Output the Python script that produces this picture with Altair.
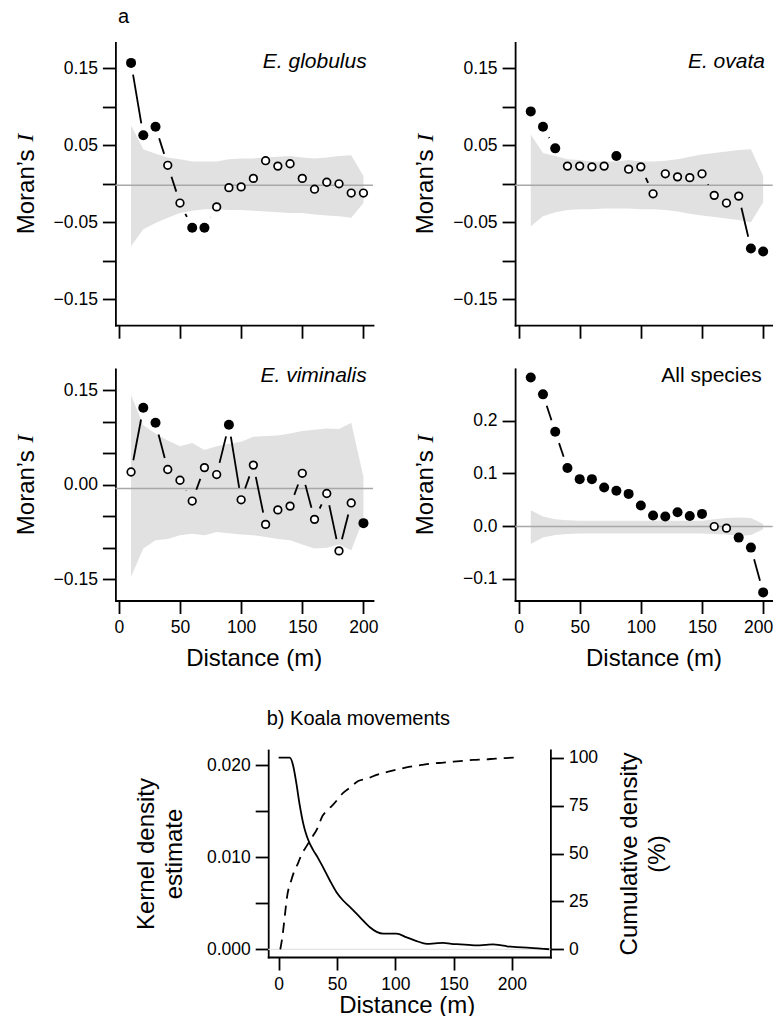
import math
import altair as alt
import pandas as pd

# ---------------- data ----------------
dist = [10, 20, 30, 40, 50, 60, 70, 80, 90, 100,
        110, 120, 130, 140, 150, 160, 170, 180, 190, 200]

glob_I = [0.157, 0.063, 0.074, 0.024, -0.025, -0.057, -0.057, -0.030, -0.005, -0.004,
          0.007, 0.030, 0.023, 0.026, 0.007, -0.007, 0.002, 0.000, -0.012, -0.012]
glob_sig = [1, 1, 1, 0, 0, 1, 1, 0, 0, 0, 0, 0, 0, 0, 0, 0, 0, 0, 0, 0]
glob_hi = [0.076, 0.045, 0.039, 0.034, 0.032, 0.029, 0.029, 0.029, 0.032, 0.033,
           0.033, 0.034, 0.035, 0.036, 0.034, 0.033, 0.034, 0.036, 0.037, 0.010]
glob_lo = [-0.081, -0.059, -0.051, -0.044, -0.038, -0.035, -0.033, -0.033, -0.034, -0.034,
           -0.035, -0.036, -0.037, -0.038, -0.038, -0.040, -0.041, -0.042, -0.044, -0.025]

ovata_I = [0.094, 0.074, 0.046, 0.023, 0.023, 0.022, 0.023, 0.036, 0.019, 0.022,
           -0.013, 0.013, 0.009, 0.008, 0.013, -0.015, -0.025, -0.016, -0.084, -0.088]
ovata_sig = [1, 1, 1, 0, 0, 0, 0, 1, 0, 0, 0, 0, 0, 0, 0, 0, 0, 0, 1, 1]
ovata_hi = [0.064, 0.040, 0.036, 0.032, 0.031, 0.029, 0.029, 0.029, 0.031, 0.029,
            0.029, 0.030, 0.032, 0.035, 0.038, 0.040, 0.042, 0.044, 0.045, 0.010]
ovata_lo = [-0.055, -0.042, -0.037, -0.034, -0.033, -0.033, -0.032, -0.032, -0.032, -0.033,
            -0.033, -0.034, -0.036, -0.039, -0.041, -0.043, -0.045, -0.047, -0.050, -0.024]

vim_I = [0.020, 0.122, 0.098, 0.024, 0.007, -0.026, 0.027, 0.016, 0.095, -0.024,
         0.031, -0.063, -0.040, -0.034, 0.018, -0.055, -0.014, -0.105, -0.029, -0.061]
vim_sig = [0, 1, 1, 0, 0, 0, 0, 0, 1, 0, 0, 0, 0, 0, 0, 0, 0, 0, 0, 1]
vim_hi = [0.142, 0.094, 0.081, 0.070, 0.061, 0.066, 0.055, 0.061, 0.065, 0.068,
          0.076, 0.077, 0.078, 0.081, 0.085, 0.087, 0.089, 0.088, 0.098, 0.012]
vim_lo = [-0.146, -0.101, -0.088, -0.086, -0.080, -0.078, -0.080, -0.075, -0.077, -0.079,
          -0.080, -0.083, -0.086, -0.088, -0.095, -0.101, -0.100, -0.095, -0.104, -0.055]

all_I = [0.282, 0.250, 0.179, 0.110, 0.089, 0.089, 0.073, 0.067, 0.061, 0.039,
         0.020, 0.018, 0.026, 0.019, 0.023, -0.001, -0.004, -0.022, -0.041, -0.126]
all_sig = [1, 1, 1, 1, 1, 1, 1, 1, 1, 1, 1, 1, 1, 1, 1, 0, 0, 1, 1, 1]
all_hi = [0.030, 0.018, 0.013, 0.011, 0.010, 0.010, 0.010, 0.010, 0.010, 0.010,
          0.010, 0.010, 0.010, 0.010, 0.010, 0.013, 0.015, 0.016, 0.015, 0.004]
all_lo = [-0.034, -0.022, -0.017, -0.015, -0.014, -0.014, -0.014, -0.014, -0.014, -0.014,
          -0.014, -0.014, -0.014, -0.014, -0.014, -0.015, -0.016, -0.019, -0.017, -0.006]

# expected value of Moran's I under the null (grey horizontal line)
null_glob, null_ovata, null_vim, null_all = -0.002, -0.002, -0.006, -0.001

kde_x = [0, 9.5, 12.3, 15.2, 18, 21, 23.8, 26.6, 29.5, 33.8, 38.1, 43.8, 49.6, 55.3, 61,
         69.6, 78.2, 84, 89.7, 95, 101, 109.7, 118.3, 127, 134, 141, 148, 155.6, 163,
         170, 177, 184, 190, 195.7, 204, 213, 222, 232]
kde_y = [0.0208, 0.0208, 0.0200, 0.0180, 0.0157, 0.0137, 0.0124, 0.0115, 0.0108, 0.0099,
         0.0089, 0.0075, 0.0062, 0.0053, 0.0046, 0.0035, 0.0024, 0.0019, 0.0017, 0.0017,
         0.0017, 0.0013, 0.0009, 0.0006, 0.00065, 0.0007, 0.0006, 0.00054, 0.00048,
         0.00043, 0.00048, 0.00054, 0.00045, 0.00033, 0.00025, 0.00018, 0.0001, 0.00001]

cum_x = [1.4, 3.2, 5.2, 7.2, 10.9, 13.8, 16.6, 19.5, 23.8, 28.1, 33.8, 36.7, 42.4, 46.7,
         55.3, 61, 68.2, 75.4, 85.4, 94, 104, 112.6, 122.6, 131.2, 141.3, 149.9, 158.5,
         167, 177, 185.7, 194.3, 202.9]
cum_y = [0, 6.5, 17, 27.4, 36.2, 41.4, 44.9, 49.3, 53.7, 58, 63.8, 68.5, 72.9, 75.5,
         81.6, 84.3, 87.8, 89, 91.3, 92.7, 94.2, 95.3, 96.2, 96.9, 97.4, 97.9, 98.4,
         98.8, 99.1, 99.5, 99.8, 100]

dist_ticks = [0, 50, 100, 150, 200]
moran_ticks = [-0.15, -0.10, -0.05, 0.0, 0.05, 0.10, 0.15]
all_ticks = [-0.1, 0.0, 0.1, 0.2]
kde_ticks = [0.0, 0.005, 0.010, 0.015, 0.020]
cum_ticks = [0, 25, 50, 75, 100]

# axis domains (R style, 4 % expansion)
dist_domain = [-2.8, 207.8]
moran_domain = [-0.1836, 0.1836]
all_domain = [-0.1414, 0.2985]
bx_domain = [-8.96, 232.96]
kde_domain = [-0.000832, 0.021632]
cum_domain = [-4, 104]

# ---------------- layout (pixels inside one view) ----------------
FONT = "Liberation Sans"
SERIF = "Liberation Serif"
VIEW_W, VIEW_H = 658, 915
LEFT_X = [0.4, 258.0]
RIGHT_X = [400.1, 657.7]
TOP_Y = [283.2, 0.4]
BOT_Y = [558.5, 326.8]
B_X = [153.2, 435.4]
B_Y = [915, 708]
GAP = 12          # gap (px) left around each point by the connecting lines
TITLE_FS = 24
MORAN_W = 3.834 * TITLE_FS   # width of "Moran’s " in Arial metrics
I_W = 0.333 * TITLE_FS
TITLE_OFF = -82.4            # baseline of y titles relative to axis line


def segments(I, xr, yr, ydom):
    sx = (xr[1] - xr[0]) / (dist_domain[1] - dist_domain[0])
    sy = (yr[0] - yr[1]) / (ydom[1] - ydom[0])
    rows = []
    for i in range(len(dist) - 1):
        x1, y1, x2, y2 = dist[i], I[i], dist[i + 1], I[i + 1]
        L = math.hypot((x2 - x1) * sx, (y2 - y1) * sy)
        if L > 2 * GAP:
            t = GAP / L
            rows.append(dict(xa=x1 + t * (x2 - x1), ya=y1 + t * (y2 - y1),
                             xb=x2 - t * (x2 - x1), yb=y2 - t * (y2 - y1)))
    if not rows:
        rows.append(dict(xa=None, ya=None, xb=None, yb=None))
    return pd.DataFrame(rows)


def label_expr(keep, mult):
    keep_s = ",".join(str(k) for k in keep)
    return f"indexof([{keep_s}], round(datum.value*{mult})) >= 0 ? datum.label : ''"


def moran_panel(I, sig, lo, hi, null, xr, yr, ydom, yticks, yfmt, lab_expr,
                bottom, title_x, edge=False):
    xs = alt.Scale(domain=dist_domain, range=xr, nice=False, zero=False)
    ys = alt.Scale(domain=ydom, range=yr, nice=False, zero=False)
    if bottom:
        extra = {}
        if edge:
            # keep the last label inside the page
            extra["labelOffset"] = {"condition": {"test": "datum.value == 200",
                                                  "value": -5}, "value": 0}
        xaxis = alt.Axis(orient="bottom", offset=yr[0] - VIEW_H, values=dist_ticks,
                         format="d", title="Distance (m)", titleX=title_x, titleY=64.5,
                         titleAlign="center", titleBaseline="alphabetic", titleAngle=0,
                         **extra)
    else:
        xaxis = alt.Axis(orient="bottom", offset=yr[0] - VIEW_H, values=dist_ticks,
                         labels=False, title=None)
    center = (yr[0] + yr[1]) / 2
    start = center + (MORAN_W + I_W) / 2
    yaxis = alt.Axis(orient="left", offset=-xr[0], values=yticks, format=yfmt,
                     labelExpr=lab_expr, title="Moran’s", titleX=TITLE_OFF,
                     titleY=start, titleAngle=270, titleAlign="left",
                     titleBaseline="alphabetic")

    df = pd.DataFrame({"d": dist, "v": I, "sig": sig, "lo": lo, "hi": hi})
    X = lambda f: alt.X(f, type="quantitative", scale=xs, axis=xaxis)
    Y = lambda f: alt.Y(f, type="quantitative", scale=ys, axis=yaxis)

    band = alt.Chart(df).mark_area(color="#e1e1e1", opacity=1).encode(
        x=X("d"), y=Y("lo"), y2="hi")
    zdf = pd.DataFrame({"d": [dist_domain[0]], "d2": [dist_domain[1]], "v": [null]})
    zero = alt.Chart(zdf).mark_rule(color="#a8a8a8", strokeWidth=1.5).encode(
        x=X("d"), x2="d2", y=Y("v"))
    seg = alt.Chart(segments(I, xr, yr, ydom)).mark_rule(
        color="black", strokeWidth=1.8).encode(x=X("xa"), x2="xb", y=Y("ya"), y2="yb")
    open_pts = alt.Chart(df).transform_filter("datum.sig == 0").mark_point(
        shape="circle", filled=True, fill="white", stroke="black", strokeWidth=1.7,
        size=58, opacity=1).encode(x=X("d"), y=Y("v"))
    full_pts = alt.Chart(df).transform_filter("datum.sig == 1").mark_point(
        shape="circle", filled=True, fill="black", stroke="black", strokeWidth=0,
        size=100, opacity=1).encode(x=X("d"), y=Y("v"))
    # the italic serif "I" that completes the axis title
    idf = pd.DataFrame({"t": ["I"]})
    ititle = alt.Chart(idf).mark_text(
        font=SERIF, fontStyle="italic", fontSize=TITLE_FS, angle=270, align="left",
        baseline="alphabetic", color="black").encode(
        x=alt.value(xr[0] + TITLE_OFF), y=alt.value(start - MORAN_W), text="t:N")
    return alt.layer(band, zero, seg, open_pts, full_pts, ititle)


G = moran_panel(glob_I, glob_sig, glob_lo, glob_hi, null_glob, LEFT_X, TOP_Y,
                moran_domain, moran_ticks, ".2f", label_expr([15, 5, -5, -15], 100),
                False, 0)
O = moran_panel(ovata_I, ovata_sig, ovata_lo, ovata_hi, null_ovata, RIGHT_X, TOP_Y,
                moran_domain, moran_ticks, ".2f", label_expr([15, 5, -5, -15], 100),
                False, 0)
V = moran_panel(vim_I, vim_sig, vim_lo, vim_hi, null_vim, LEFT_X, BOT_Y,
                moran_domain, moran_ticks, ".2f", label_expr([15, 0, -15], 100),
                True, 138.7)
A = moran_panel(all_I, all_sig, all_lo, all_hi, null_all, RIGHT_X, BOT_Y,
                all_domain, all_ticks, ".1f", "datum.label", True, 538.5, edge=True)

# ---------------- panel b ----------------
bxs = alt.Scale(domain=bx_domain, range=B_X, nice=False, zero=False)
kys = alt.Scale(domain=kde_domain, range=B_Y, nice=False, zero=False)
cys = alt.Scale(domain=cum_domain, range=B_Y, nice=False, zero=False)
b_center = (B_Y[0] + B_Y[1]) / 2
bxaxis = alt.Axis(orient="bottom", offset=0, values=dist_ticks, format="d",
                  title="Distance (m)", titleX=291.7, titleY=55, titleAlign="center",
                  titleBaseline="alphabetic", titleAngle=0)
kaxis = alt.Axis(orient="left", offset=-B_X[0], values=kde_ticks, format=".3f",
                 labelExpr=label_expr([0, 10, 20], 1000),
                 title=["Kernel density", "estimate"], titleX=-114.5, titleY=b_center,
                 titleAngle=270, titleAlign="center", titleBaseline="alphabetic",
                 titleLineHeight=28)
caxis = alt.Axis(orient="right", offset=B_X[1] - VIEW_W, values=cum_ticks, format="d",
                 title=["Cumulative density", "(%)"], titleX=85.6, titleY=b_center,
                 titleAngle=270, titleAlign="center", titleBaseline="alphabetic",
                 titleLineHeight=28)

kdf = pd.DataFrame({"d": kde_x, "k": kde_y})
cdf = pd.DataFrame({"d": cum_x, "c": cum_y})
bz = pd.DataFrame({"d": [bx_domain[0]], "d2": [bx_domain[1]], "k": [0.0]})

bzero = alt.Chart(bz).mark_rule(color="#e4e4e4", strokeWidth=1.2).encode(
    x=alt.X("d:Q", scale=bxs, axis=bxaxis), x2="d2",
    y=alt.Y("k:Q", scale=kys, axis=kaxis))
kline = alt.Chart(kdf).mark_line(color="black", strokeWidth=1.8,
                                 interpolate="monotone").encode(
    x=alt.X("d:Q", scale=bxs, axis=bxaxis), y=alt.Y("k:Q", scale=kys, axis=kaxis))
cline = alt.Chart(cdf).mark_line(color="black", strokeWidth=1.8, strokeDash=[10, 7],
                                 interpolate="monotone").encode(
    x=alt.X("d:Q", scale=bxs, axis=bxaxis), y=alt.Y("c:Q", scale=cys, axis=caxis))
B = alt.layer(alt.layer(bzero, kline), cline).resolve_scale(y="independent")

# ---------------- text annotations ----------------
def txt(s, x, y, size, style="normal", align="left"):
    return alt.Chart(pd.DataFrame({"t": [s]})).mark_text(
        font=FONT, fontSize=size, fontStyle=style, align=align, baseline="alphabetic",
        color="black").encode(x=alt.value(x), y=alt.value(y), text="t:N")

notes = [
    txt("a", 3, -18.8, 20),
    txt("E. globulus", 251.7, 26.3, 21, "italic", "right"),
    txt("E. ovata", 650, 26.3, 21, "italic", "right"),
    txt("E. viminalis", 251.7, 339.5, 21, "italic", "right"),
    txt("All species", 646.7, 339.5, 21, "normal", "right"),
    txt("b) Koala movements", 151.7, 683, 20),
]

chart = alt.layer(G, O, V, A, B, *notes).resolve_scale(
    x="independent", y="independent"
).properties(
    width=VIEW_W, height=VIEW_H,
    padding={"left": 107, "top": 34, "right": 0, "bottom": 59},
    autosize=alt.AutoSizeParams(type="none"),
    background="white",
).configure_view(strokeWidth=0).configure_axis(
    labelFont=FONT, titleFont=FONT, labelFontSize=17.5, titleFontSize=TITLE_FS,
    titleFontWeight="normal", labelColor="black", titleColor="black",
    domainColor="black", tickColor="black", domainWidth=1.8, tickWidth=1.8,
    tickSize=13, labelPadding=5, grid=False, labelFlush=False, labelOverlap=False,
    domainCap="square",
)

chart.save("out.html", embed_options={"renderer": "svg", "actions": False})
